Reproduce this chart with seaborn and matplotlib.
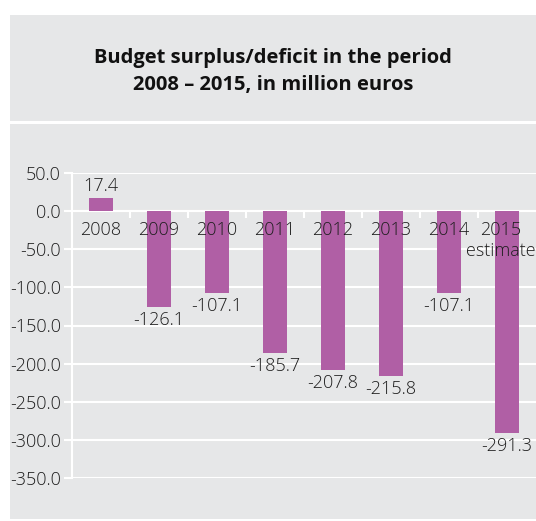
import matplotlib
matplotlib.use("Agg")
import matplotlib.pyplot as plt
from matplotlib.patches import Rectangle
import seaborn as sns
import pandas as pd

years = ["2008", "2009", "2010", "2011", "2012", "2013", "2014", "2015"]
year_labels = ["2008", "2009", "2010", "2011", "2012", "2013", "2014", "2015\nestimate"]
balance = [17.4, -126.1, -107.1, -185.7, -207.8, -215.8, -107.1, -291.3]
y_ticks = [50, 0, -50, -100, -150, -200, -250, -300, -350]
title = "Budget surplus/deficit in the period\n2008 – 2015, in million euros"

sns.set_theme(style="white")
plt.rcParams["font.family"] = ["Open Sans", "DejaVu Sans"]

W, H = 536, 521
panel = "#e6e7e8"
bar_color = "#b05fa5"
text_color = "#1e1e1e"
fs = 13
fw = "light"

fig = plt.figure(figsize=(W / 100, H / 100), dpi=100)
fig.patch.set_facecolor("white")

# title box and chart panel
fig.patches.append(Rectangle((10 / W, 1 - 120.5 / H), (W - 10) / W, 105.5 / H,
                             transform=fig.transFigure, facecolor=panel, edgecolor="none", zorder=-2))
fig.patches.append(Rectangle((10 / W, 1 - 519 / H), (W - 10) / W, 395 / H,
                             transform=fig.transFigure, facecolor=panel, edgecolor="none", zorder=-2))
fig.text(273 / W, 1 - 71.5 / H, title, ha="center", va="center", fontsize=14.5,
         fontweight="bold", color="#111111", linespacing=1.5)

ax = fig.add_axes([72 / W, 1 - 478 / H, (W - 72) / W, 305 / H])
ax.set_zorder(1)
ax.set_facecolor(panel)

df = pd.DataFrame({"year": years, "balance": balance})
sns.barplot(data=df, x="year", y="balance", color=bar_color, saturation=1,
            width=0.41, ax=ax, zorder=3, edgecolor="none", linewidth=0)

ax.set_ylim(-350, 50)
ax.set_xlim(-0.5, len(years) - 0.5)
ax.set_yticks(y_ticks)
ax.set_yticklabels([f"{v:.1f}" for v in y_ticks], color=text_color, fontsize=fs,
                   fontweight=fw)
ax.tick_params(axis="y", length=6, width=1.5, color="white", pad=2, left=True)
ax.set_xticks([])
ax.set_xlabel("")
ax.set_ylabel("")
ax.grid(axis="y", color="white", linewidth=1.5, zorder=1)
ax.set_axisbelow(True)
for side in ["top", "right", "bottom"]:
    ax.spines[side].set_visible(False)
ax.spines["left"].set_color("white")
ax.spines["left"].set_linewidth(1.5)

# zero line with boundary ticks
ax.axhline(0, color="white", linewidth=1.5, zorder=2)
for i in range(1, len(years)):
    ax.plot([i - 0.5, i - 0.5], [0, -9], color="white", linewidth=1.5, zorder=2,
            solid_capstyle="butt")

# category labels below the zero line
for i, lab in enumerate(year_labels):
    ax.annotate(lab, (i, 0), xytext=(-4.5 if "\n" in lab else 0, -7),
                textcoords="offset points", ha="center", va="top", fontsize=fs,
                fontweight=fw, color=text_color, linespacing=1.25, zorder=4,
                annotation_clip=False)

# value labels
for i, v in enumerate(balance):
    if v >= 0:
        ax.annotate(f"{v:.1f}", (i, v), xytext=(0, 2), textcoords="offset points",
                    ha="center", va="bottom", fontsize=fs, fontweight=fw, color=text_color)
    else:
        ax.annotate(f"{v:.1f}", (i, v), xytext=(0, -3), textcoords="offset points",
                    ha="center", va="top", fontsize=fs, fontweight=fw, color=text_color)

fig.savefig("out.png", dpi=100)
